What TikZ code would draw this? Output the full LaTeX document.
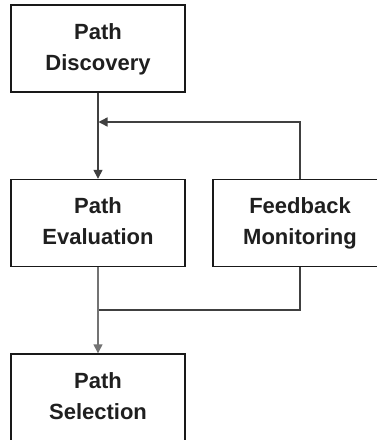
\documentclass[tikz,border=0pt]{standalone}
\usepackage{fontspec}
\setmainfont{Liberation Sans}
\usetikzlibrary{arrows.meta}
\tikzset{
  stage/.style={draw=black!90, line width=1.4pt, rectangle,
    minimum width=174pt, minimum height=87pt, inner sep=0pt,
    align=center, text=black!88,
    font=\fontsize{22}{31}\selectfont\bfseries},
  link/.style={draw=black!75, line width=1.4pt},
  flow/.style={link, -{Triangle[length=9pt,width=9pt]}}
}
\begin{document}
\begin{tikzpicture}
  \useasboundingbox (0pt,0pt) rectangle (377pt,-440pt);
  \clip (0pt,0pt) rectangle (377pt,-440pt);
  \fill[white] (0pt,0pt) rectangle (377pt,-440pt);

  \node[stage] (disc) at (98pt,-48.5pt) {\strut Path\\\strut Discovery};
  \node[stage] (eval) at (98pt,-223pt) {\strut Path\\\strut Evaluation};
  \node[stage] (fb)   at (300pt,-223pt) {\strut Feedback\\\strut Monitoring};
  \node[stage] (sel)  at (98pt,-397.5pt) {\strut Path\\\strut Selection};

  % feedback loop joins the discovery -> evaluation line
  \coordinate (loopin) at (98.5pt,-122pt);
  \coordinate (merge)  at (98pt,-310pt);

  \draw[flow] (disc) -- (eval);
  \draw[flow] (fb.north) |- (loopin);
  \draw[link] (fb.south) |- (merge);
  \draw[flow, draw=black!55] (eval) -- (sel);
\end{tikzpicture}
\end{document}
